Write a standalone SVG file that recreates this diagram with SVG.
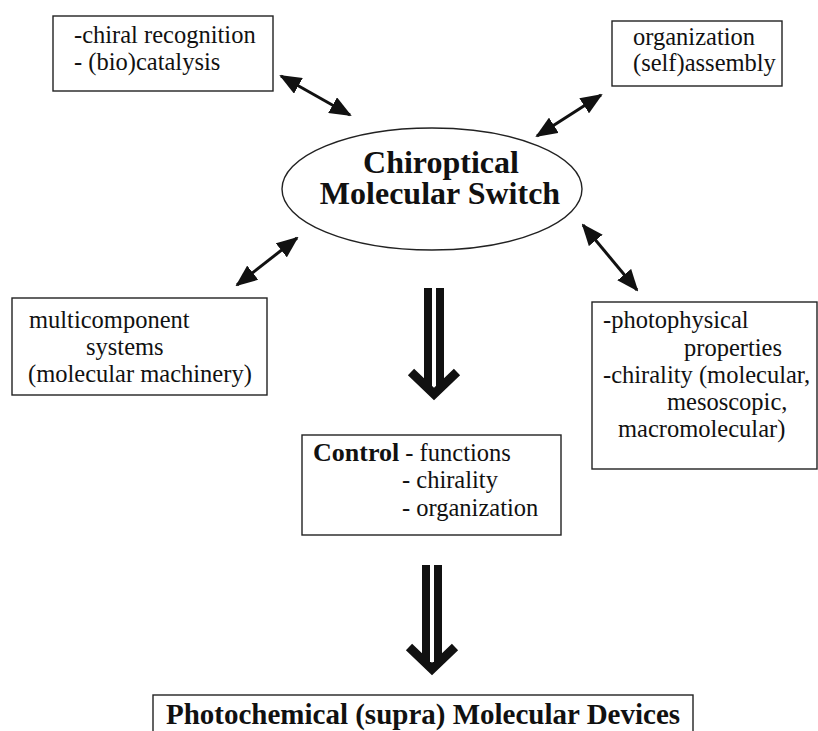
<svg xmlns="http://www.w3.org/2000/svg" width="818" height="731" viewBox="0 0 818 731">
<style>
.box{fill:#fff;stroke:#222;stroke-width:1.4}
.t{font-family:"Liberation Serif","Times New Roman",serif;font-size:24.5px;fill:#111}
.b{font-family:"Liberation Serif","Times New Roman",serif;font-weight:bold;fill:#111}
.conn{stroke:#111;stroke-width:3;fill:none;marker-start:url(#ah);marker-end:url(#ah)}
</style>
<defs>
<marker id="ah" markerUnits="userSpaceOnUse" markerWidth="22" markerHeight="18" viewBox="0 0 22 18" refX="20" refY="9" orient="auto-start-reverse">
<path d="M0,0 L22,9 L0,18 z" fill="#111"/>
</marker>
</defs>
<rect width="818" height="731" fill="#fff"/>

<g id="connectors">
<line class="conn" x1="281" y1="76" x2="350" y2="115"/>
<line class="conn" x1="537" y1="136" x2="601" y2="95"/>
<line class="conn" x1="237" y1="285" x2="297" y2="238"/>
<line class="conn" x1="583" y1="225" x2="637" y2="290"/>
<g id="down1">
<polyline points="411,372 434,394 457,372" fill="none" stroke="#111" stroke-width="9"/>
<rect x="424" y="288" width="8" height="100" fill="#111"/>
<rect x="436" y="288" width="8" height="100" fill="#111"/>
<rect x="432" y="288" width="4" height="98" fill="#fff"/>
</g>
<g id="down2">
<polyline points="409,647 432,669 455,647" fill="none" stroke="#111" stroke-width="9"/>
<rect x="422" y="565" width="8" height="100" fill="#111"/>
<rect x="434" y="565" width="8" height="100" fill="#111"/>
<rect x="430" y="565" width="4" height="97" fill="#fff"/>
</g>
</g>

<g id="n-recognition">
<rect class="box" x="53" y="16" width="220" height="75"/>
<text class="t" x="74" y="43">-chiral recognition</text>
<text class="t" x="74" y="70">- (bio)catalysis</text>
</g>

<g id="n-organization">
<rect class="box" x="612" y="21" width="170" height="65"/>
<text class="t" x="633" y="45">organization</text>
<text class="t" x="633" y="71">(self)assembly</text>
</g>

<g id="n-switch">
<ellipse cx="432" cy="189" rx="150" ry="61" fill="#fff" stroke="#222" stroke-width="1.4"/>
<text class="b" x="441" y="173" font-size="32" text-anchor="middle">Chiroptical</text>
<text class="b" x="440" y="204" font-size="32" text-anchor="middle">Molecular Switch</text>
</g>

<g id="n-multicomponent">
<rect class="box" x="12" y="298" width="255" height="97"/>
<text class="t" x="29" y="328">multicomponent</text>
<text class="t" x="86" y="355">systems</text>
<text class="t" x="28" y="382">(molecular machinery)</text>
</g>

<g id="n-photophysical">
<rect class="box" x="592" y="302" width="225" height="167"/>
<text class="t" x="603" y="328">-photophysical</text>
<text class="t" x="684" y="356">properties</text>
<text class="t" x="603" y="383">-chirality (molecular,</text>
<text class="t" x="667" y="410">mesoscopic,</text>
<text class="t" x="618" y="437">macromolecular)</text>
</g>

<g id="n-control">
<rect class="box" x="302" y="435" width="259" height="100"/>
<text x="313" y="461"><tspan class="b" font-size="26">Control</tspan><tspan class="t" font-size="26"> - functions</tspan></text>
<text class="t" x="402" y="488" font-size="26">- chirality</text>
<text class="t" x="402" y="516" font-size="26">- organization</text>
</g>

<g id="n-devices">
<rect class="box" x="153" y="695" width="540" height="60"/>
<text class="b" x="423" y="724" font-size="29" text-anchor="middle">Photochemical (supra) Molecular Devices</text>
</g>
</svg>
